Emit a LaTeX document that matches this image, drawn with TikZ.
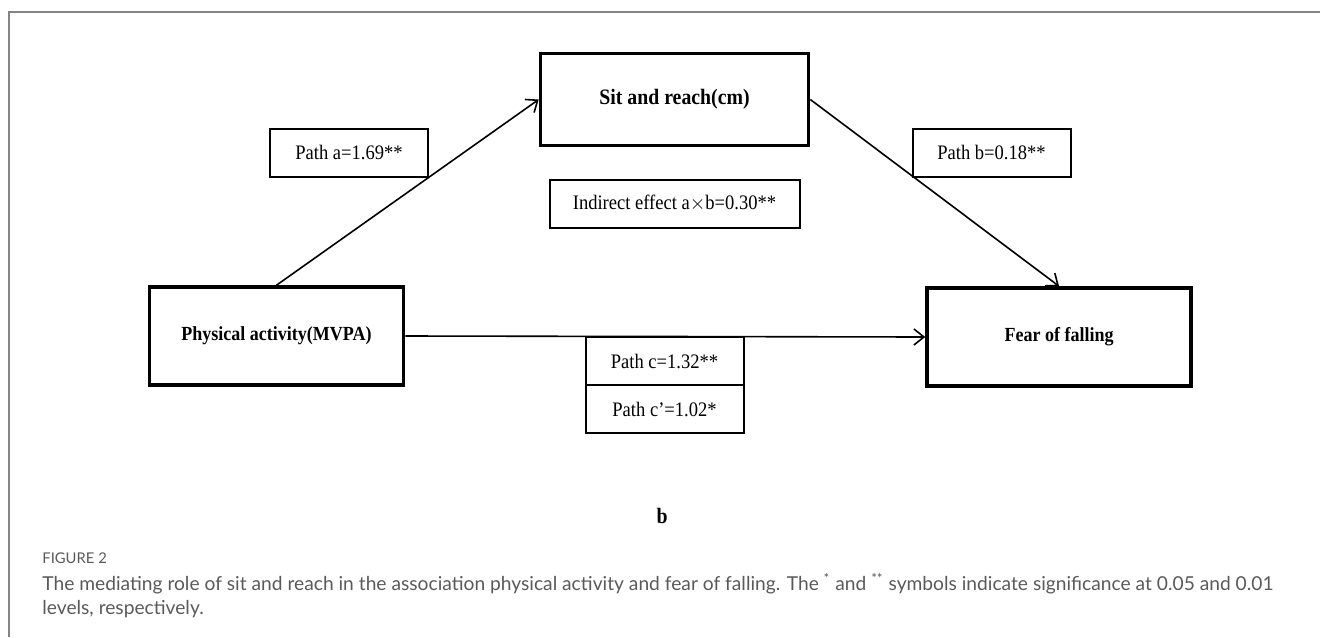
\documentclass[tikz,border=0pt]{standalone}
\usepackage{fontspec}
\setmainfont{Liberation Serif}[FakeStretch=0.9]
\newfontfamily\capfont{Lato}
\usetikzlibrary{arrows.meta}
\definecolor{capgray}{HTML}{5A5A5A}
\definecolor{framegray}{HTML}{858585}
\begin{document}
\begin{tikzpicture}[x=0.5pt, y=-0.5pt, >={Straight Barb[length=5pt,width=8pt]},
    varbox/.style={draw, line width=1.8pt, inner sep=0pt, font=\fontsize{10}{11}\selectfont\bfseries},
    pathbox/.style={draw, line width=1pt, inner sep=0pt, minimum width=79pt, minimum height=24pt,
      font=\fontsize{10.3}{12}\selectfont},
    link/.style={->, line width=0.8pt}]
  \useasboundingbox (0,0) rectangle (1320,637);
  \draw[framegray, line width=0.8pt] (1320,12) -- (9,12) -- (9,637);

  \node[varbox, minimum width=134pt, minimum height=46pt, font=\fontsize{11}{12}\selectfont\bfseries]
    (sit) at (674.5,99.5) {Sit and reach(cm)};
  \node[varbox, minimum width=127pt, minimum height=49pt] (pa) at (276.5,336) {Physical activity(MVPA)};
  \node[varbox, minimum width=132pt, minimum height=49pt] (fear) at (1059,337) {Fear of falling};

  \node[pathbox] (patha) at (349,152.5) {Path a=1.69**};
  \node[pathbox] (pathb) at (991.5,152.5) {Path b=0.18**};
  \node[pathbox, minimum width=125pt] (indirect) at (674.5,203.5) {Indirect effect a$\times$b=0.30**};
  \node[pathbox] (pathc) at (664.5,361) {Path c=1.32**};
  \node[pathbox] (pathcp) at (664.5,409) {Path c'=1.02*};

  \draw[link] (pa.north) -- (sit.west);
  \draw[link] (sit.east) -- (fear.north);
  \draw[link] (pa.east) -- (fear.west);

  \node[font=\fontsize{11}{12}\selectfont\bfseries] (panel) at (662,516) {b};

  \node[anchor=base west, inner sep=0pt, text=capgray, font=\capfont\fontsize{7.4}{8}\selectfont]
    (figlabel) at (42,563) {FIGURE 2};
  \node[anchor=north west, inner sep=0pt, align=left, text=capgray, font=\capfont\fontsize{9.6}{12}\selectfont]
    (caption) at (42,573) {The mediating role of sit and reach in the association physical activity and fear of falling. The \textsuperscript{*} and \textsuperscript{**} symbols indicate significance at 0.05 and 0.01\\levels, respectively.};
\end{tikzpicture}
\end{document}
